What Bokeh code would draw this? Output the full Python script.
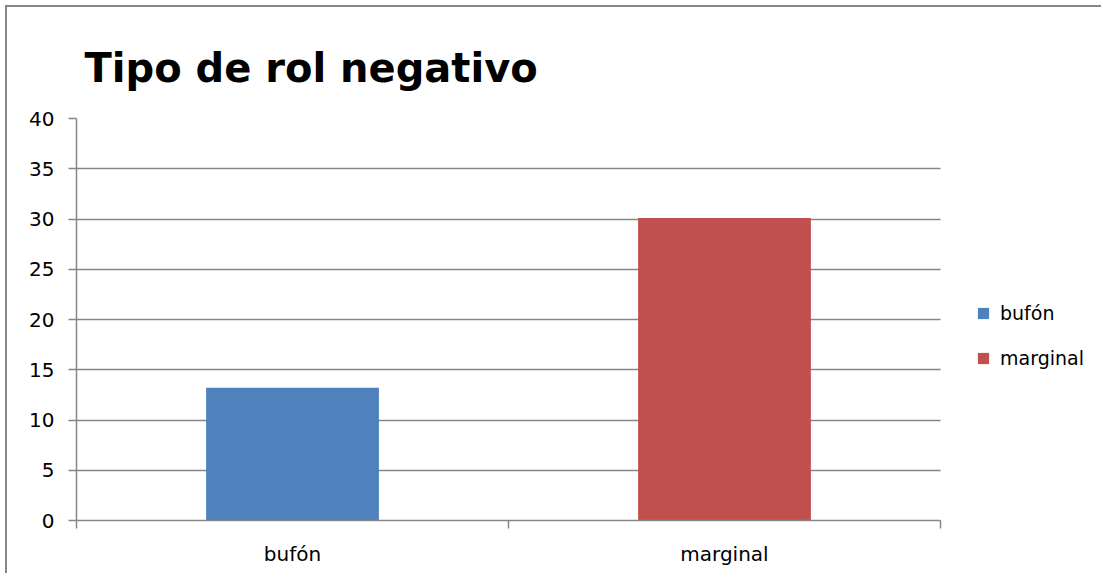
from bokeh.plotting import figure
from bokeh.models import ColumnDataSource, FixedTicker, Legend, LegendItem, Range1d
from bokeh.embed import file_html
from bokeh.resources import INLINE

# ---- data ----
categories = ["bufón", "marginal"]
values = [13.2, 30.1]
colors = ["#4F81BD", "#C0504D"]
y_ticks = [0, 5, 10, 15, 20, 25, 30, 35, 40]
title_text = "Tipo de rol negativo"

n = len(categories)
xs = [i + 0.5 for i in range(n)]
source = ColumnDataSource(dict(x=xs, top=values, color=colors, cat=categories))

GRAY = "#868686"
FONT = "DejaVu Sans"

# layout (pixels)
W, H = 1096, 568
LEFT, TOP, BOTTOM = 69, 111, 55
PLOT_W = 864               # width of the category area
FRAME_W = W - LEFT - 1     # frame extends to the right edge (room for legend)
x_end = n * FRAME_W / PLOT_W

p = figure(width=W, height=H, output_backend="svg", toolbar_location=None,
           x_range=Range1d(0, x_end), y_range=Range1d(0, 40),
           min_border_left=LEFT, min_border_right=1, min_border_top=TOP,
           min_border_bottom=BOTTOM, title=title_text)
p.styles = {"position": "relative", "left": "5px", "top": "5px",
            "border-left": "2px solid #868686", "border-top": "2px solid #868686"}
p.outline_line_color = None
p.background_fill_color = "white"
p.border_fill_color = "white"

# title
p.title.text_font = FONT
p.title.text_font_style = "bold"
p.title.text_font_size = "40px"
p.title.text_color = "#000000"
p.title.offset = 8
p.title.standoff = 56

r = p.vbar(x="x", top="top", bottom=0, width=0.4, color="color", source=source,
           line_color=None)

# x axis
xa = p.xaxis[0]
xa.bounds = (0, n)
xa.ticker = FixedTicker(ticks=xs, minor_ticks=list(range(n + 1)))
xa.major_label_overrides = {x: c for x, c in zip(xs, categories)}
xa.major_tick_out = 0
xa.major_tick_in = 0
xa.minor_tick_out = 8
xa.minor_tick_in = 0
xa.minor_tick_line_color = GRAY
xa.minor_tick_line_width = 1.5
xa.axis_line_color = GRAY
xa.axis_line_width = 1.5
xa.major_label_text_font = FONT
xa.major_label_text_font_size = "20px"
xa.major_label_text_color = "#000000"
xa.major_label_standoff = 13

# y axis
ya = p.yaxis[0]
ya.ticker = FixedTicker(ticks=y_ticks)
ya.minor_tick_line_color = None
ya.major_tick_out = 8
ya.major_tick_in = 0
ya.major_tick_line_color = GRAY
ya.major_tick_line_width = 1.3
ya.axis_line_color = GRAY
ya.axis_line_width = 1.5
ya.major_label_text_font = FONT
ya.major_label_text_font_size = "20px"
ya.major_label_text_color = "#000000"
ya.major_label_standoff = 14

p.xgrid.grid_line_color = None
g = p.ygrid[0]
g.grid_line_color = GRAY
g.grid_line_width = 1.3
g.ticker = FixedTicker(ticks=y_ticks)
g.cross_bounds = (0, n)

# legend
items = [LegendItem(label=c, renderers=[r], index=i) for i, c in enumerate(categories)]
legend = Legend(items=items, location=(900, 150), orientation="vertical")
legend.border_line_color = None
legend.background_fill_alpha = 0
legend.padding = 0
legend.margin = 0
legend.glyph_width = 14
legend.glyph_height = 14
legend.label_height = 24
legend.spacing = 21
legend.label_standoff = 10
legend.label_text_font = FONT
legend.label_text_font_size = "19px"
legend.label_text_color = "#000000"
p.add_layout(legend, "center")

open("out.html", "w").write(file_html(p, INLINE))
